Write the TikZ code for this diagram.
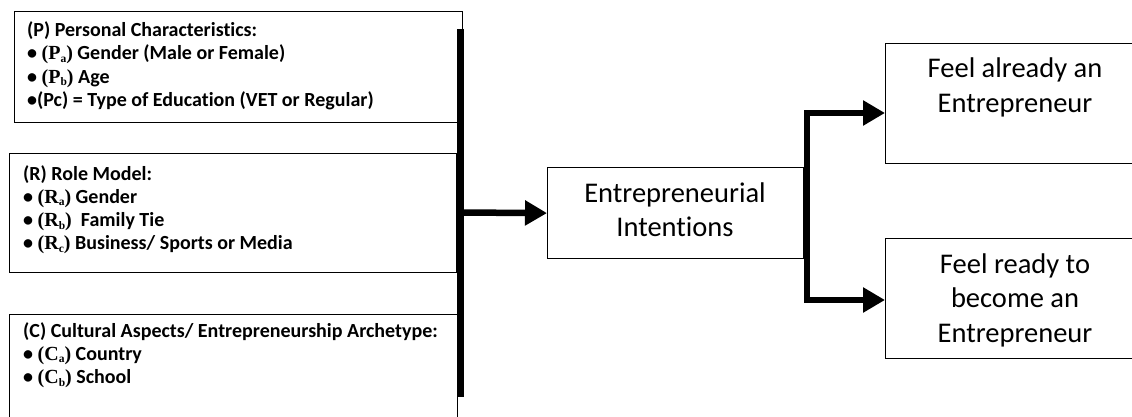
\documentclass[tikz,border=0pt]{standalone}
\usepackage{fontspec}
\setmainfont{Carlito}[Ligatures=NoCommon]
\newfontfamily\serifv{Liberation Serif}
\usetikzlibrary{arrows.meta}
\newcommand\subv[2]{{\serifv\bfseries(#1\raisebox{-2.5pt}{\fontsize{11.5}{11.5}\selectfont #2})}}
\tikzset{
  box/.style={draw=black, line width=1.2pt, anchor=north west, inner sep=0pt, fill=none},
  lefttext/.style={anchor=base west, inner sep=0pt, font=\fontsize{20}{23.3}\selectfont\bfseries},
  righttext/.style={anchor=base, inner sep=0pt, font=\fontsize{28.5}{34.5}\selectfont},
  bar/.style={line width=7pt},
  arr/.style={line width=6.5pt, -{Triangle[length=22pt,width=24pt]}},
}
\begin{document}
\begin{tikzpicture}[x=1pt,y=-1pt]
\useasboundingbox (0,0) rectangle (1132,417);
\clip (0,0) rectangle (1132,417);
% boxes
\node[box, minimum width=448pt, minimum height=111pt] (P) at (14,11) {};
\node[box, minimum width=447pt, minimum height=119pt] (R) at (9,153) {};
\node[box, minimum width=448pt, minimum height=130pt] (C) at (9,314) {};
\node[box, minimum width=256pt, minimum height=91pt] (EI) at (547,167) {};
\node[box, minimum width=262pt, minimum height=120pt] (F1) at (885,43) {};
\node[box, minimum width=262pt, minimum height=120pt] (F2) at (885,238) {};
% texts
\node[lefttext] (Pt) at (27,36.5) {\begin{tabular}[t]{@{}l@{}}
(P) Personal Characteristics:\\
\textbullet{} \subv{P}{a} Gender (Male or Female)\\
\textbullet{} \subv{P}{b} Age\\
\textbullet(Pc) = Type of Education (VET or Regular)
\end{tabular}};
\node[lefttext] (Rt) at (23,180) {\begin{tabular}[t]{@{}l@{}}
(R) Role Model:\\
\textbullet{} \subv{R}{a} Gender\\
\textbullet{} \subv{R}{b}\ \ Family Tie\\
\textbullet{} \subv{R}{c} Business/ Sports or Media
\end{tabular}};
\node[lefttext] (Ct) at (23,337) {\begin{tabular}[t]{@{}l@{}}
(C) Cultural Aspects/ Entrepreneurship Archetype:\\
\textbullet{} \subv{C}{a} Country\\
\textbullet{} \subv{C}{b} School
\end{tabular}};
\node[righttext] (EIt) at (675,202) {\begin{tabular}[t]{@{}c@{}}Entrepreneurial\\Intentions\end{tabular}};
\node[righttext] (F1t) at (1015,78) {\begin{tabular}[t]{@{}c@{}}Feel already an\\Entrepreneur\end{tabular}};
\node[righttext] (F2t) at (1015,273) {\begin{tabular}[t]{@{}c@{}}Feel ready to\\become an\\Entrepreneur\end{tabular}};
% connectors
\coordinate (bt) at (460,29);
\coordinate (bb) at (460,397);
\coordinate (j0) at (460,212.5);
\coordinate (b1) at (807,113);
\coordinate (b2) at (807,300);
\draw[bar] (bt) -- (bb);
\draw[arr] (j0) -- (EI.west);
\draw[line width=6.5pt, line join=miter, {Triangle[length=22pt,width=24pt]}-{Triangle[length=22pt,width=24pt]}]
  (F1.west |- b1) -- (b1) -- (b2) -- (F2.west |- b2);
\end{tikzpicture}
\end{document}
